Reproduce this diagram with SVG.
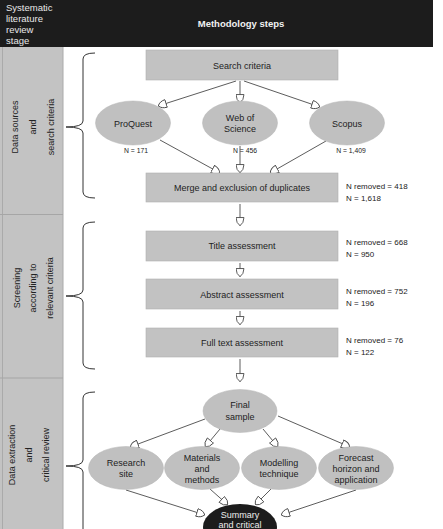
<svg xmlns="http://www.w3.org/2000/svg" width="443" height="529" viewBox="0 0 443 529">
<style>
text{font-family:"Liberation Sans",Arial,sans-serif;fill:#222}
.hd{fill:#e8e8e8;font-size:9.5px}
.hb{fill:#f2f2f2;font-size:9.5px;font-weight:bold}
.box{fill:#c2c2c2;stroke:#b0b0b0;stroke-width:0.6}
.ell{fill:#c0c0c0;stroke:#b5b5b5;stroke-width:0.5}
.lb{font-size:9px;text-anchor:middle}
.side{font-size:8px}
.n{font-size:6.8px;text-anchor:middle}
.st{font-size:9px;text-anchor:middle}
.br{fill:none;stroke:#333;stroke-width:1}
.c{fill:none;stroke:#4a4a4a;stroke-width:0.9;marker-end:url(#ah)}
</style>
<defs>
<marker id="ah" viewBox="0 0 10 10" refX="10" refY="5" markerWidth="9" markerHeight="9" markerUnits="userSpaceOnUse" orient="auto">
<path d="M0.6,0.6 Q7,0.8 9.6,5 Q7,9.2 0.6,9.4 Z" fill="#fff" stroke="#4a4a4a" stroke-width="1"/>
</marker>
</defs>
<rect width="443" height="529" fill="#fff"/>
<g id="header">
<rect x="0" y="0" width="433" height="47" fill="#1c1c1c"/>
<text class="hd" x="6" y="11">Systematic</text>
<text class="hd" x="6" y="22">literature</text>
<text class="hd" x="6" y="33">review</text>
<text class="hd" x="6" y="44">stage</text>
<text class="hb" x="241" y="27" text-anchor="middle">Methodology steps</text>
</g>
<g id="stages">
<rect x="0" y="47" width="63" height="482" fill="#c3c3c3"/>
<line x1="2.5" y1="47" x2="2.5" y2="529" stroke="#aaa" stroke-width="1"/>
<line x1="63" y1="47" x2="63" y2="529" stroke="#aaa" stroke-width="1"/>
<line x1="0" y1="214.5" x2="63" y2="214.5" stroke="#a6a6a6" stroke-width="1.2"/>
<line x1="0" y1="378" x2="63" y2="378" stroke="#a6a6a6" stroke-width="1.2"/>
<g id="stage1" transform="translate(0,127) rotate(-90)">
<text class="st" x="0" y="18">Data sources</text>
<text class="st" x="0" y="36">and</text>
<text class="st" x="0" y="54">search criteria</text>
</g>
<g id="stage2" transform="translate(0,288) rotate(-90)">
<text class="st" x="0" y="20">Screening</text>
<text class="st" x="0" y="36">according to</text>
<text class="st" x="0" y="53">relevant criteria</text>
</g>
<g id="stage3" transform="translate(0,455) rotate(-90)">
<text class="st" x="0" y="15">Data extraction</text>
<text class="st" x="0" y="32">and</text>
<text class="st" x="0" y="49">critical review</text>
</g>
</g>
<g id="braces">
<path class="br" d="M95,53 Q83,53 83,59 L83,121 Q83,127 66,127 Q83,127 83,133 L83,192 Q83,198 95,198"/>
<path class="br" d="M95,222 Q83,222 83,228 L83,290 Q83,296 66,296 Q83,296 83,302 L83,363 Q83,369 95,369"/>
<path class="br" d="M95,392 Q83,392 83,398 L83,460 Q83,466 66,466 Q83,466 83,472 L83,540"/>
</g>
<g id="connectors">
<line class="c" x1="236" y1="81" x2="158" y2="106"/>
<line class="c" x1="240" y1="81" x2="240" y2="103"/>
<line class="c" x1="244" y1="81" x2="320" y2="107"/>
<line class="c" x1="160" y1="140" x2="220" y2="173"/>
<line class="c" x1="240" y1="146" x2="240" y2="173"/>
<line class="c" x1="326" y1="141" x2="270" y2="173"/>
<line class="c" x1="240" y1="204" x2="240" y2="226"/>
<line class="c" x1="240" y1="263" x2="240" y2="277"/>
<line class="c" x1="240" y1="311" x2="240" y2="325"/>
<line class="c" x1="240" y1="359" x2="240" y2="382"/>
<line class="c" x1="205" y1="419" x2="130" y2="447"/>
<line class="c" x1="220" y1="429" x2="205" y2="447"/>
<line class="c" x1="263" y1="429" x2="278" y2="447"/>
<line class="c" x1="278" y1="416" x2="350" y2="447"/>
<line class="c" x1="126" y1="490" x2="205" y2="515"/>
<line class="c" x1="210" y1="489" x2="228" y2="505"/>
<line class="c" x1="271" y1="489" x2="255" y2="505"/>
<line class="c" x1="356" y1="490" x2="281" y2="515"/>
</g>
<g id="search-criteria">
<rect class="box" x="146" y="50" width="192" height="30"/>
<text class="lb" x="242" y="69">Search criteria</text>
</g>
<g id="proquest">
<ellipse class="ell" cx="133" cy="123" rx="37.5" ry="22"/>
<text class="lb" x="133" y="126.5">ProQuest</text>
<text class="n" x="136" y="153">N = 171</text>
</g>
<g id="web-of-science">
<ellipse class="ell" cx="240" cy="123" rx="37.5" ry="22"/>
<text class="lb" x="240" y="120.5">Web of</text>
<text class="lb" x="240" y="132">Science</text>
<text class="n" x="245" y="153">N = 456</text>
</g>
<g id="scopus">
<ellipse class="ell" cx="347" cy="123" rx="37.5" ry="22"/>
<text class="lb" x="347" y="126.5">Scopus</text>
<text class="n" x="351" y="153">N = 1,409</text>
</g>
<g id="merge">
<rect class="box" x="146" y="173" width="192" height="29"/>
<text class="lb" x="242" y="191">Merge and exclusion of duplicates</text>
<text class="side" x="346" y="189">N removed = 418</text>
<text class="side" x="346" y="201">N = 1,618</text>
</g>
<g id="title-assessment">
<rect class="box" x="146" y="231" width="192" height="30"/>
<text class="lb" x="242" y="249">Title assessment</text>
<text class="side" x="346" y="245">N removed = 668</text>
<text class="side" x="346" y="257">N = 950</text>
</g>
<g id="abstract-assessment">
<rect class="box" x="146" y="279" width="192" height="30"/>
<text class="lb" x="242" y="298">Abstract assessment</text>
<text class="side" x="346" y="294">N removed = 752</text>
<text class="side" x="346" y="306">N = 196</text>
</g>
<g id="full-text-assessment">
<rect class="box" x="146" y="328" width="192" height="29"/>
<text class="lb" x="242" y="346">Full text assessment</text>
<text class="side" x="346" y="343">N removed = 76</text>
<text class="side" x="346" y="355">N = 122</text>
</g>
<g id="final-sample">
<ellipse class="ell" cx="240" cy="411" rx="37" ry="21.5"/>
<text class="lb" x="240" y="408">Final</text>
<text class="lb" x="240" y="420">sample</text>
</g>
<g id="research-site">
<ellipse class="ell" cx="126" cy="468" rx="37.5" ry="21.5"/>
<text class="lb" x="126" y="466">Research</text>
<text class="lb" x="126" y="477">site</text>
</g>
<g id="materials-methods">
<ellipse class="ell" cx="202" cy="468" rx="37.5" ry="21.5"/>
<text class="lb" x="202" y="461">Materials</text>
<text class="lb" x="202" y="472">and</text>
<text class="lb" x="202" y="483">methods</text>
</g>
<g id="modelling-technique">
<ellipse class="ell" cx="279" cy="468" rx="37.5" ry="21.5"/>
<text class="lb" x="279" y="466">Modelling</text>
<text class="lb" x="279" y="477">technique</text>
</g>
<g id="forecast-horizon">
<ellipse class="ell" cx="356" cy="468" rx="37.5" ry="21.5"/>
<text class="lb" x="356" y="461">Forecast</text>
<text class="lb" x="356" y="472">horizon and</text>
<text class="lb" x="356" y="483">application</text>
</g>
<g id="summary">
<ellipse cx="240" cy="527" rx="37" ry="23" fill="#1c1c1c"/>
<text class="lb" x="240" y="517.5" style="fill:#eee">Summary</text>
<text class="lb" x="240" y="527.5" style="fill:#eee">and critical</text>
</g>
</svg>
